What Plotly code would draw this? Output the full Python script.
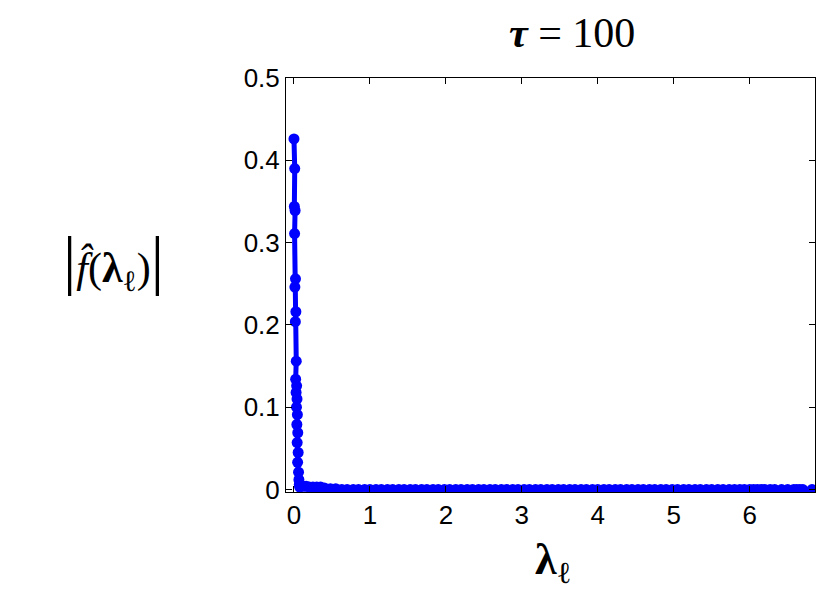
import plotly.graph_objects as go

# eigenvalues near zero carrying large coefficients
lam_peak = [0.000, 0.010, 0.005, 0.015, 0.008, 0.020, 0.012, 0.025, 0.018, 0.030,
            0.022, 0.035, 0.028, 0.040, 0.033, 0.045, 0.038, 0.050, 0.042, 0.055,
            0.048, 0.060, 0.065, 0.070, 0.075]
f_peak = [0.426, 0.390, 0.344, 0.339, 0.311, 0.256, 0.246, 0.216, 0.204, 0.156,
          0.134, 0.126, 0.118, 0.110, 0.100, 0.091, 0.079, 0.069, 0.057, 0.045,
          0.033, 0.021, 0.012, 0.006, 0.003]

# remaining eigenvalues, coefficients essentially zero
lam_tail = [0.08, 0.12, 0.16, 0.20, 0.25, 0.30, 0.35, 0.40, 0.48, 0.55,
            0.63, 0.70, 0.78, 0.85, 0.93, 1.00, 1.08, 1.15, 1.23, 1.30,
            1.38, 1.45, 1.53, 1.60, 1.68, 1.75, 1.83, 1.90, 1.98, 2.05,
            2.13, 2.20, 2.28, 2.35, 2.43, 2.50, 2.58, 2.65, 2.73, 2.80,
            2.88, 2.95, 3.03, 3.10, 3.18, 3.25, 3.33, 3.40, 3.48, 3.55,
            3.63, 3.70, 3.78, 3.85, 3.93, 4.00, 4.08, 4.15, 4.23, 4.30,
            4.38, 4.45, 4.53, 4.60, 4.68, 4.75, 4.83, 4.90, 4.98, 5.05,
            5.13, 5.20, 5.28, 5.35, 5.43, 5.50, 5.58, 5.65, 5.73, 5.80,
            5.87, 5.93, 6.00, 6.05, 6.10, 6.15, 6.20, 6.27, 6.33, 6.42,
            6.50, 6.58, 6.62, 6.66, 6.70, 6.82]
f_tail = [0.004, 0.004, 0.004, 0.003, 0.003, 0.003, 0.003, 0.002, 0.001, 0.001] + [0.0] * 86

lam = lam_peak + lam_tail
fhat = f_peak + f_tail

x_ticks = [0, 1, 2, 3, 4, 5, 6]
y_ticks = [0, 0.1, 0.2, 0.3, 0.4, 0.5]
y_tick_text = ["0", "0.1", "0.2", "0.3", "0.4", "0.5"]

W, H = 822, 588
ML, MR, MT, MB = 278, 15, 70, 104

fig = go.Figure()
fig.add_trace(go.Scatter(
    x=lam, y=fhat, mode="lines+markers",
    line=dict(color="#0000ff", width=5),
    marker=dict(color="#0000ff", size=11),
    showlegend=False,
))

tickfont = dict(family="Liberation Sans, Arial, sans-serif", size=26, color="black")
common = dict(showgrid=False, zeroline=False, showline=True, linecolor="black",
              linewidth=1, mirror="ticks", ticks="inside", ticklen=6,
              tickcolor="black", tickfont=tickfont)

fig.update_xaxes(range=[-0.105, 6.86], tickvals=x_ticks, ticklabelstandoff=0, **common)
fig.update_yaxes(range=[-0.003, 0.5], tickvals=y_ticks, ticktext=y_tick_text, **common)

fig.update_layout(
    width=W, height=H,
    margin=dict(l=ML, r=MR, t=MT, b=MB),
    paper_bgcolor="white", plot_bgcolor="white",
)

pw, ph = W - ML - MR, H - MT - MB
def px(x): return (x - 8 - ML) / pw
def py(y): return (H - MB - (y - 8)) / ph

serif = "Liberation Serif, Times New Roman, serif"
fig.add_annotation(x=px(572), y=py(33), xref="paper", yref="paper",
                   xanchor="center", yanchor="middle",
                   text="<b><i>τ</i></b> = 100", showarrow=False,
                   font=dict(family=serif, size=42, color="black"))
fig.add_annotation(x=px(113), y=py(260), xref="paper", yref="paper",
                   xanchor="center", yanchor="middle",
                   text="<span style='font-size:66px'>|</span><i>f̂</i>(<b>λ</b><sub>ℓ</sub>)<span style='font-size:66px'>|</span>",
                   showarrow=False, font=dict(family=serif, size=42, color="black"))
fig.add_annotation(x=px(553), y=py(562), xref="paper", yref="paper",
                   xanchor="center", yanchor="middle",
                   text="<b>λ</b><sub>ℓ</sub>", showarrow=False,
                   font=dict(family=serif, size=44, color="black"))

fig.write_html("out.html")
